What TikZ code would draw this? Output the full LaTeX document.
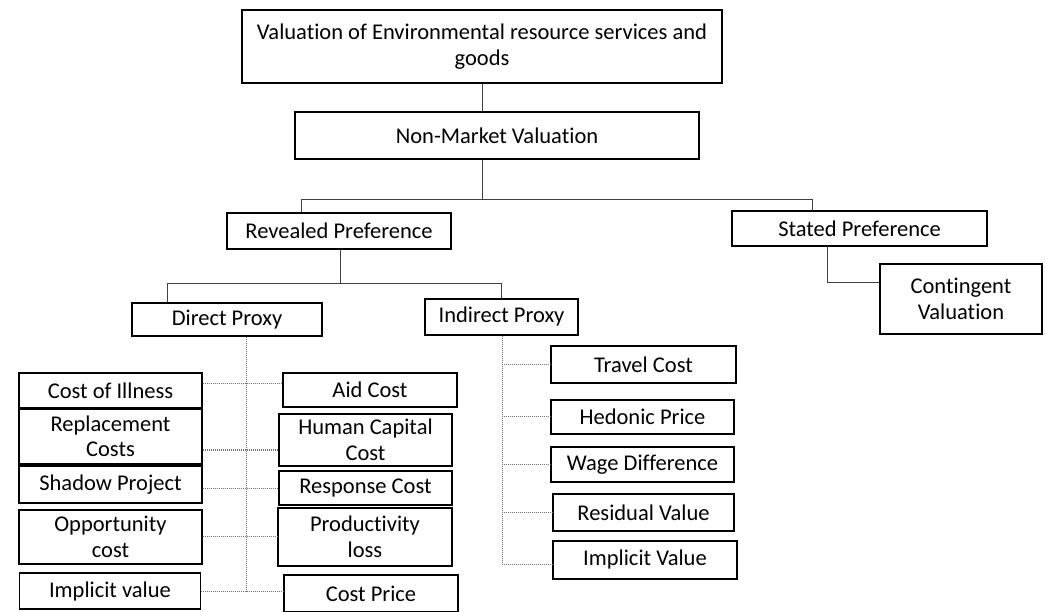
\documentclass[tikz,border=0pt]{standalone}
\usepackage{fontspec}
\setmainfont[Ligatures=NoCommon]{Carlito}
\begin{document}
\begin{tikzpicture}[x=1pt,y=-1pt,
  box/.style={draw=black,line width=1.2pt,inner sep=0pt,align=center,
    font=\fontsize{22.5}{25.5}\selectfont,text=black},
  link/.style={draw=black!75,line width=0.8pt},
  dlink/.style={draw=black!55,line width=1pt,densely dotted}]
\useasboundingbox (0,0) rectangle (1045,612);
% nodes
\node[box,minimum width=480pt,minimum height=73pt] (top) at (482,46.5) {Valuation of Environmental resource services and\\goods};
\node[box,minimum width=404pt,minimum height=47pt] (nm) at (497,135.5) {Non-Market Valuation};
\node[box,minimum width=224pt,minimum height=36pt] (rp) at (339,231) {Revealed Preference};
\node[box,minimum width=255pt,minimum height=35pt] (sp) at (859.5,228.5) {Stated Preference};
\node[box,minimum width=162pt,minimum height=70pt] (cv) at (961,299) {Contingent\\Valuation};
\node[box,minimum width=190pt,minimum height=33pt] (dp) at (227,319.5) {Direct Proxy};
\node[box,minimum width=153pt,minimum height=36pt] (ip) at (501.5,317) {Indirect Proxy};
% direct proxy left column
\node[box,minimum width=183pt,minimum height=35pt] (coi) at (110.5,390.5) {Cost of Illness};
\node[box,minimum width=183pt,minimum height=55pt] (rc) at (110.5,436.5) {Replacement\\Costs};
\node[box,minimum width=183pt,minimum height=37pt] (shp) at (110.5,484.5) {Shadow Project};
\node[box,minimum width=183pt,minimum height=54pt] (opp) at (110.5,537) {Opportunity\\cost};
\node[box,minimum width=181pt,minimum height=36pt] (imv) at (110,591) {Implicit value};
% direct proxy right column
\node[box,minimum width=174pt,minimum height=34pt] (aid) at (370,390) {Aid Cost};
\node[box,minimum width=173pt,minimum height=52pt] (hcc) at (365.5,440) {Human Capital\\Cost};
\node[box,minimum width=173pt,minimum height=34pt] (resp) at (365.5,488) {Response Cost};
\node[box,minimum width=174pt,minimum height=58pt] (prod) at (365,537) {Productivity\\loss};
\node[box,minimum width=174pt,minimum height=37pt] (cp) at (371,593.5) {Cost Price};
% indirect proxy column
\node[box,minimum width=185pt,minimum height=37pt] (tc) at (643.5,364.5) {Travel Cost};
\node[box,minimum width=183pt,minimum height=34pt] (hp) at (642.5,417) {Hedonic Price};
\node[box,minimum width=183pt,minimum height=35pt] (wd) at (642.5,464.5) {Wage Difference};
\node[box,minimum width=181pt,minimum height=37pt] (rv) at (643.5,512.5) {Residual Value};
\node[box,minimum width=184pt,minimum height=38pt] (iv) at (645,560) {Implicit Value};
% junction coordinates
\coordinate (j0) at (482,199);
\coordinate (jl) at (301,199);
\coordinate (jr) at (812,199);
\coordinate (k0) at (340,283);
\coordinate (kl) at (167,283);
\coordinate (kr) at (501,283);
\coordinate (s1) at (827,282);
\coordinate (d1) at (246,384);
\coordinate (d2) at (246,450);
\coordinate (d3) at (246,488);
\coordinate (d4) at (246,536);
\coordinate (d5) at (246,591);
\coordinate (i5) at (502,564);
% upper connectors
\draw[link] (top.south) -- (top.south |- nm.north);
\draw[link] (j0 |- nm.south) -- (j0);
\draw[link] (jl |- rp.north) -- (jl) -- (jr) -- (jr |- sp.north);
\draw[link] (k0 |- rp.south) -- (k0);
\draw[link] (kl |- dp.north) -- (kl) -- (kr) -- (kr |- ip.north);
\draw[link] (s1 |- sp.south) -- (s1) -- (s1 -| cv.west);
% direct proxy connectors
\draw[dlink] (d1 |- dp.south) -- (d5);
\foreach \d/\l/\r in {d1/coi/aid,d2/rc/hcc,d3/shp/resp,d4/opp/prod,d5/imv/cp}
  \draw[dlink] (\l.east |- \d) -- (\r.west |- \d);
% indirect proxy connectors
\draw[dlink] (i5 |- ip.south) -- (i5);
\foreach \n in {tc,hp,wd,rv}
  \draw[dlink] (i5 |- \n.west) -- (\n.west);
\draw[dlink] (i5) -- (i5 -| iv.west);
\end{tikzpicture}
\end{document}
